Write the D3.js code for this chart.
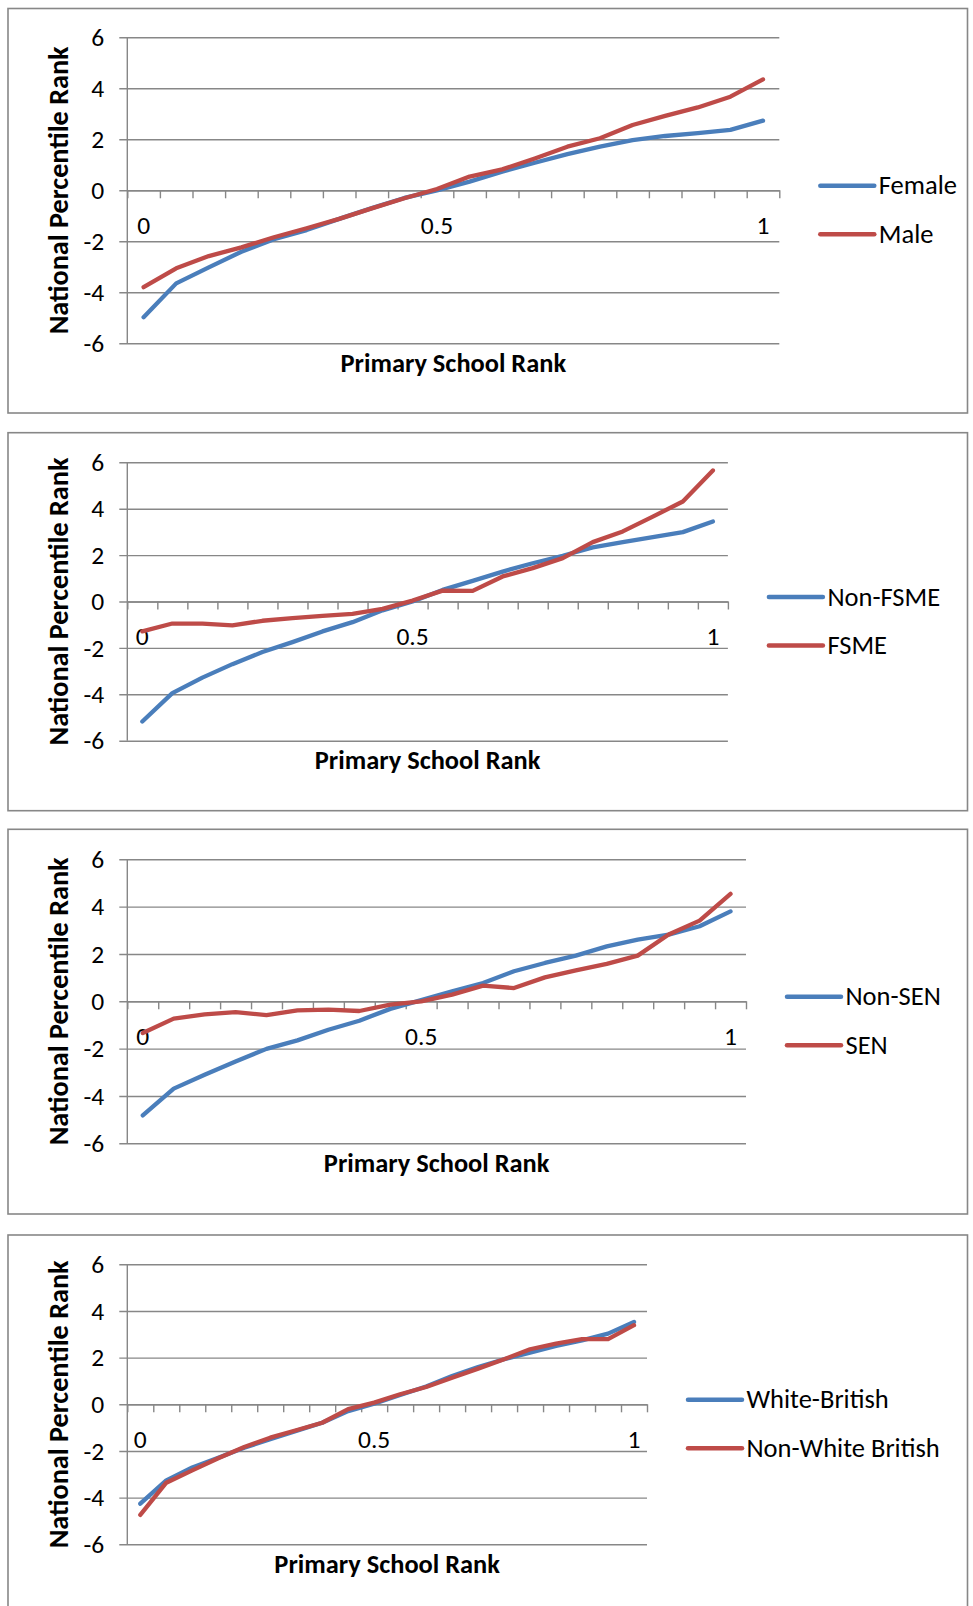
<!DOCTYPE html>
<html>
<head>
<meta charset="utf-8">
<script src="https://cdn.jsdelivr.net/npm/d3@7"></script>
<style>
  body { margin: 0; background: #fff; }
  svg { display: block; }
</style>
</head>
<body>
<div id="chart"></div>
<script>
/* four Excel-style line charts: national percentile rank against primary school rank, by pupil group */

// x categories (20 bands), only three of them carry a label
var rankLabels = ["0", "", "", "", "", "", "", "", "", "0.5", "", "", "", "", "", "", "", "", "", "1"];
var yTicks = [-6, -4, -2, 0, 2, 4, 6];

// series
var female = [-4.98, -3.65, -3.02, -2.41, -1.92, -1.56, -1.12, -0.7, -0.3, 0.0, 0.34, 0.73, 1.08, 1.42, 1.71, 1.97, 2.13, 2.24, 2.37, 2.73];
var male   = [-3.8, -3.06, -2.58, -2.24, -1.84, -1.49, -1.12, -0.71, -0.31, 0.05, 0.54, 0.82, 1.25, 1.71, 2.04, 2.56, 2.92, 3.25, 3.67, 4.35];

var nonFsme = [-5.17, -3.95, -3.28, -2.7, -2.18, -1.75, -1.29, -0.89, -0.38, 0.0, 0.5, 0.89, 1.29, 1.65, 1.97, 2.33, 2.56, 2.77, 2.99, 3.45];
var fsme    = [-1.29, -0.95, -0.95, -1.03, -0.83, -0.72, -0.62, -0.53, -0.32, 0.04, 0.47, 0.46, 1.08, 1.44, 1.87, 2.56, 3.02, 3.66, 4.31, 5.65];

var nonSen = [-4.82, -3.69, -3.1, -2.54, -2.01, -1.65, -1.2, -0.82, -0.32, 0.05, 0.42, 0.77, 1.27, 1.62, 1.93, 2.32, 2.61, 2.82, 3.17, 3.8];
var sen    = [-1.34, -0.73, -0.55, -0.46, -0.58, -0.38, -0.35, -0.41, -0.14, 0.0, 0.28, 0.66, 0.56, 1.01, 1.31, 1.58, 1.93, 2.82, 3.41, 4.54];

var whiteBritish    = [-4.26, -3.26, -2.71, -2.29, -1.86, -1.5, -1.14, -0.79, -0.29, 0.03, 0.4, 0.76, 1.21, 1.6, 1.93, 2.21, 2.5, 2.74, 3.03, 3.53];
var nonWhiteBritish = [-4.74, -3.36, -2.83, -2.31, -1.83, -1.43, -1.11, -0.79, -0.21, 0.07, 0.43, 0.74, 1.14, 1.53, 1.93, 2.36, 2.6, 2.79, 2.79, 3.39];

var blue = "#4a7ebb", red = "#be4b48", grey = "#878787";
var font = "Calibri, Carlito, 'Liberation Sans', Arial, sans-serif";

// frame and plot box of each chart on the page
var panels = [
    {series: [{name: "Female", values: female, colour: blue}, {name: "Male", values: male, colour: red}],
     frame: {x0: 8, y0: 8.5, x1: 967.5, y1: 413}, plot: {left: 127.3, right: 779.3, top: 37.3, bottom: 343.3}},
    {series: [{name: "Non-FSME", values: nonFsme, colour: blue}, {name: "FSME", values: fsme, colour: red}],
     frame: {x0: 8, y0: 432.7, x1: 967.5, y1: 810.7}, plot: {left: 127.3, right: 727.9, top: 462.3, bottom: 740.7}},
    {series: [{name: "Non-SEN", values: nonSen, colour: blue}, {name: "SEN", values: sen, colour: red}],
     frame: {x0: 8, y0: 829.3, x1: 967.5, y1: 1214}, plot: {left: 127.3, right: 746, top: 859.3, bottom: 1143.3}},
    {series: [{name: "White-British", values: whiteBritish, colour: blue}, {name: "Non-White British", values: nonWhiteBritish, colour: red}],
     frame: {x0: 8, y0: 1235, x1: 967.5, y1: 1625}, plot: {left: 127.3, right: 647, top: 1264.3, bottom: 1544.3}}
];

var svg = d3.select("#chart")
    .append("svg")
    .attr("width", 973)
    .attr("height", 1606);

panels.forEach(function (p) {
    var g = svg.append("g");
    var pl = p.plot;

    // chart frame
    g.append("rect")
        .attr("x", p.frame.x0)
        .attr("y", p.frame.y0)
        .attr("width", p.frame.x1 - p.frame.x0)
        .attr("height", p.frame.y1 - p.frame.y0)
        .attr("fill", "none")
        .attr("stroke", grey)
        .attr("stroke-width", 1.6);

    var x = d3.scaleBand()
        .domain(d3.range(rankLabels.length))
        .range([pl.left, pl.right]);
    var xEdge = d3.scaleLinear()
        .domain([0, rankLabels.length])
        .range([pl.left, pl.right]);
    var y = d3.scaleLinear()
        .domain([-6, 6])
        .range([pl.bottom, pl.top]);

    // gridlines with the outside tick marks, then labels (plain hyphen for minus, as Excel does)
    var yAxis = g.append("g")
        .attr("transform", "translate(" + pl.left + ",0)")
        .call(d3.axisLeft(y)
            .tickValues(yTicks)
            .tickSize(-(pl.right - pl.left))
            .tickSizeOuter(0)
            .tickPadding(23)
            .tickFormat(function (d) { return String(d); }));
    yAxis.select(".domain").remove();
    yAxis.selectAll(".tick line")
        .attr("x1", -8)
        .attr("stroke", grey)
        .attr("stroke-width", 1.4);
    yAxis.selectAll(".tick text")
        .attr("font-family", font)
        .attr("font-size", 25.5)
        .attr("fill", "#000")
        .attr("dy", "0.32em");

    // vertical value axis line
    g.append("line")
        .attr("x1", pl.left).attr("x2", pl.left)
        .attr("y1", y(6)).attr("y2", y(-6))
        .attr("stroke", grey)
        .attr("stroke-width", 1.4);

    // category axis crossing at zero
    var xAxis = g.append("g")
        .attr("transform", "translate(0," + y(0) + ")")
        .call(d3.axisBottom(xEdge)
            .tickValues(d3.range(rankLabels.length + 1))
            .tickSize(8)
            .tickSizeOuter(0)
            .tickFormat(""));
    xAxis.select(".domain").attr("stroke", grey).attr("stroke-width", 1.4);
    xAxis.selectAll(".tick line").attr("stroke", grey).attr("stroke-width", 1.4);

    g.append("g").selectAll("text")
        .data(rankLabels.map(function (d, i) { return {label: d, i: i}; }).filter(function (d) { return d.label; }))
        .enter()
        .append("text")
        .attr("x", function (d) { return x(d.i) + x.bandwidth() / 2; })
        .attr("y", y(0) + 43.5)
        .attr("text-anchor", "middle")
        .attr("font-family", font)
        .attr("font-size", 25.5)
        .text(function (d) { return d.label; });

    // lines
    var line = d3.line()
        .x(function (d, i) { return x(i) + x.bandwidth() / 2; })
        .y(function (d) { return y(d); });

    g.append("g").selectAll("path")
        .data(p.series)
        .enter()
        .append("path")
        .attr("d", function (d) { return line(d.values); })
        .attr("fill", "none")
        .attr("stroke", function (d) { return d.colour; })
        .attr("stroke-width", 4.3)
        .attr("stroke-linejoin", "round")
        .attr("stroke-linecap", "round");

    // axis titles
    g.append("text")
        .attr("x", (pl.left + pl.right) / 2)
        .attr("y", pl.bottom + 28.7)
        .attr("text-anchor", "middle")
        .attr("font-family", font)
        .attr("font-weight", "bold")
        .attr("font-size", 26.4)
        .text("Primary School Rank");

    g.append("text")
        .attr("transform", "translate(68," + y(0) + ") rotate(-90)")
        .attr("text-anchor", "middle")
        .attr("font-family", font)
        .attr("font-weight", "bold")
        .attr("font-size", 28.2)
        .text("National Percentile Rank");

    // legend
    var legend = g.append("g").selectAll("g")
        .data(p.series)
        .enter()
        .append("g")
        .attr("transform", function (d, i) { return "translate(" + (pl.right + 41) + "," + (y(0) - 4.5 + i * 48.4) + ")"; });
    legend.append("line")
        .attr("x1", 0).attr("x2", 54)
        .attr("stroke", function (d) { return d.colour; })
        .attr("stroke-width", 4.5)
        .attr("stroke-linecap", "round");
    legend.append("text")
        .attr("x", 58.5)
        .attr("y", 8.5)
        .attr("font-family", font)
        .attr("font-size", 26.5)
        .text(function (d) { return d.name; });
});
</script>
</body>
</html>
